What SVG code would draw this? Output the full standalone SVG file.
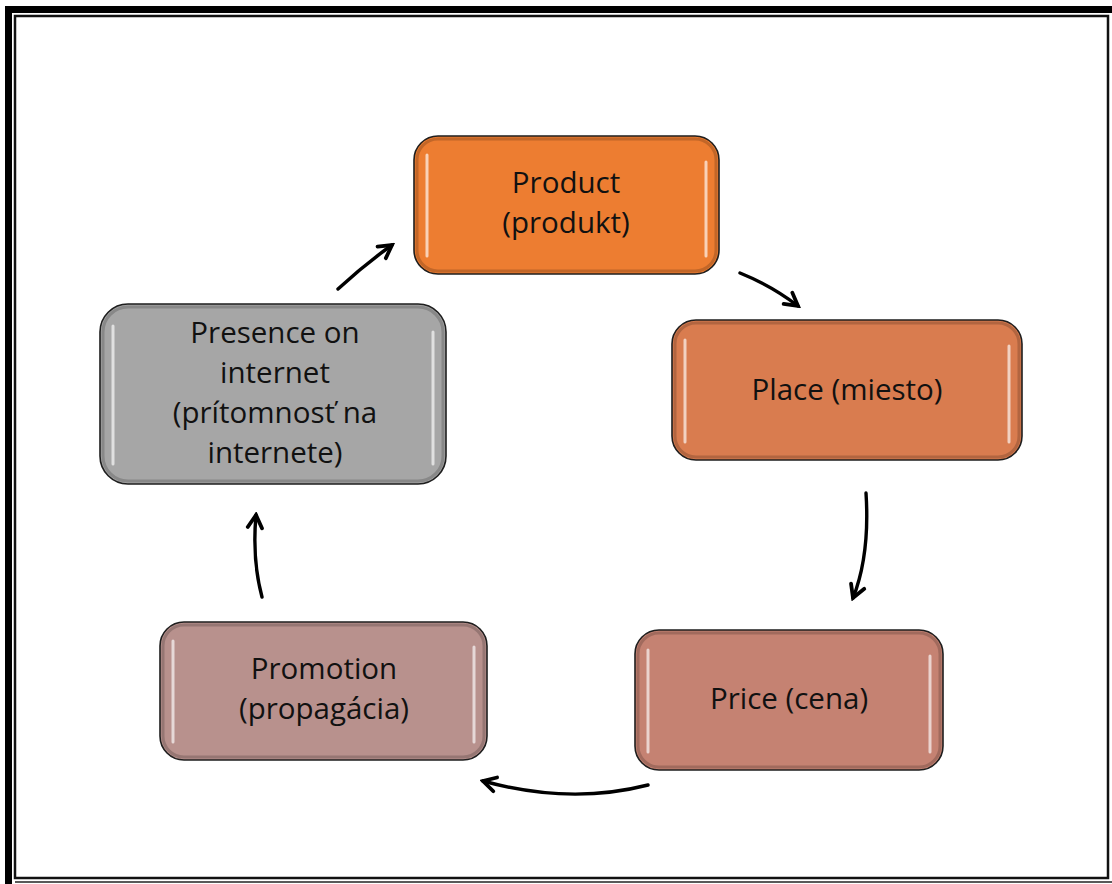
<svg xmlns="http://www.w3.org/2000/svg" width="1112" height="884" viewBox="0 0 1112 884">
<defs>
<style>
.box{stroke:#1e1e1e;stroke-width:1.6}
.bevel{fill:none;stroke:#000;stroke-opacity:0.18;stroke-width:3}
.hl{stroke:#fff;stroke-opacity:0.65;stroke-width:3;stroke-linecap:round}
.lbl{font-family:"Open Sans","Liberation Sans",sans-serif;font-size:29.5px;fill:#111;text-anchor:middle}
.arr{fill:none;stroke:#000;stroke-width:3.4;stroke-linecap:round;marker-end:url(#ah)}
</style>
<marker id="ah" viewBox="0 0 12 12" refX="10" refY="6" markerWidth="19" markerHeight="19" markerUnits="userSpaceOnUse" orient="auto">
<path d="M2,1.5 L10,6 L2,10.5" fill="none" stroke="#000" stroke-width="2.4" stroke-linecap="round" stroke-linejoin="miter"/>
</marker>
</defs>
<rect width="1112" height="884" fill="#fff"/>
<g id="frame">
<path d="M8.5,884 V9.5 H1112" fill="none" stroke="#000" stroke-width="7"/>
<rect x="15" y="16" width="1093" height="862" fill="none" stroke="#111" stroke-width="2.5"/>
<line x1="15" y1="882" x2="1112" y2="882" stroke="#222" stroke-width="1.5"/>
</g>
<g id="product">
<rect class="box" x="414" y="136" width="305" height="138" rx="24" fill="#ED7D31"/>
<rect class="bevel" x="417" y="139" width="299" height="132" rx="21"/>
<line class="hl" x1="427" y1="155" x2="427" y2="256"/>
<line class="hl" x1="706" y1="162" x2="706" y2="256"/>
<text class="lbl" x="566" y="193">Product</text>
<text class="lbl" x="566" y="233">(produkt)</text>
</g>
<g id="place">
<rect class="box" x="672" y="320" width="350" height="140" rx="24" fill="#D97C4F"/>
<rect class="bevel" x="675" y="323" width="344" height="134" rx="21"/>
<line class="hl" x1="685" y1="340" x2="685" y2="442"/>
<line class="hl" x1="1009" y1="346" x2="1009" y2="442"/>
<text class="lbl" x="847" y="400">Place (miesto)</text>
</g>
<g id="price">
<rect class="box" x="635" y="630" width="308" height="140" rx="24" fill="#C58272"/>
<rect class="bevel" x="638" y="633" width="302" height="134" rx="21"/>
<line class="hl" x1="648" y1="650" x2="648" y2="752"/>
<line class="hl" x1="930" y1="656" x2="930" y2="752"/>
<text class="lbl" x="789" y="709">Price (cena)</text>
</g>
<g id="promotion">
<rect class="box" x="160" y="622" width="327" height="138" rx="24" fill="#B8918D"/>
<rect class="bevel" x="163" y="625" width="321" height="132" rx="21"/>
<line class="hl" x1="173" y1="641" x2="173" y2="742"/>
<line class="hl" x1="474" y1="647" x2="474" y2="742"/>
<text class="lbl" x="324" y="679">Promotion</text>
<text class="lbl" x="324" y="719">(propagácia)</text>
</g>
<g id="presence">
<rect class="box" x="100" y="304" width="346" height="180" rx="28" fill="#A6A6A6"/>
<rect class="bevel" x="103" y="307" width="340" height="174" rx="25"/>
<line class="hl" x1="113" y1="326" x2="113" y2="464"/>
<line class="hl" x1="433" y1="332" x2="433" y2="464"/>
<text class="lbl" x="275" y="343">Presence on</text>
<text class="lbl" x="275" y="383">internet</text>
<text class="lbl" x="275" y="423">(prítomnosť na</text>
<text class="lbl" x="275" y="463">internete)</text>
</g>
<g id="connectors">
<path class="arr" d="M338,289 Q364,265 392,245"/>
<path class="arr" d="M740,273 Q772,286 798,306"/>
<path class="arr" d="M866,493 Q870,555 853,598"/>
<path class="arr" d="M648,785 Q570,805 483,781"/>
<path class="arr" d="M262,597 Q252,560 256,515"/>
</g>
</svg>
